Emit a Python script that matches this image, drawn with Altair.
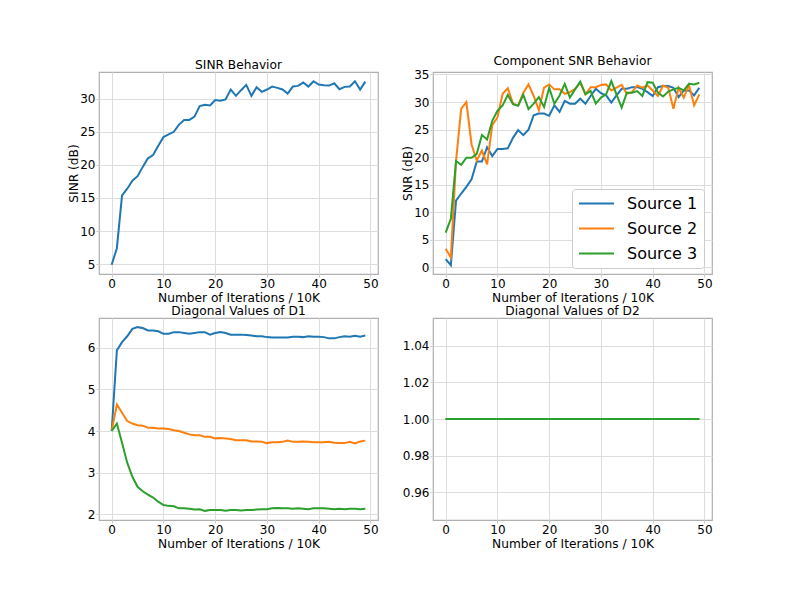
import altair as alt
import pandas as pd

iterations = list(range(50))
sources = ["Source 1", "Source 2", "Source 3"]
colors = ["#1f77b4", "#ff7f0e", "#2ca02c"]
x_ticks = [0, 10, 20, 30, 40, 50]

sinr = [4.9, 7.4, 15.4, 16.4, 17.6, 18.3, 19.7, 21.0, 21.5, 22.9,
        24.2, 24.6, 25.0, 26.1, 26.8, 26.8, 27.3, 28.9, 29.1, 29.0,
        29.8, 29.7, 29.9, 31.4, 30.45, 31.3, 32.1, 30.45, 31.75, 31.05,
        31.4, 31.85, 31.65, 31.4, 30.8, 31.85, 31.95, 32.45, 31.85, 32.65,
        32.15, 32.05, 32.0, 32.35, 31.45, 31.8, 31.85, 32.65, 31.4, 32.6]

snr_source1 = [1.5, 0.4, 12.1, 13.4, 14.6, 16.0, 19.2, 19.2, 21.8, 20.2,
               21.5, 21.5, 21.6, 23.5, 24.9, 24.0, 25.0, 27.6, 27.9, 27.9,
               27.5, 29.4, 28.2, 30.2, 29.7, 29.7, 30.6, 29.7, 31.1, 32.4,
               31.6, 31.2, 29.9, 31.2, 32.4, 32.4, 32.7, 32.7, 32.4, 31.8,
               31.1, 32.7, 32.9, 32.9, 32.6, 30.9, 32.1, 32.1, 31.2, 32.6]
snr_source2 = [3.4, 1.8, 19.3, 28.8, 30.0, 22.3, 19.4, 21.2, 18.7, 25.8,
               27.2, 31.5, 32.5, 29.7, 29.4, 31.7, 33.2, 31.1, 28.5, 32.6,
               33.2, 32.3, 32.3, 31.5, 31.8, 32.4, 33.5, 31.4, 32.7, 32.7,
               33.1, 33.2, 32.1, 32.6, 33.1, 31.5, 31.8, 33.0, 32.6, 33.0,
               32.1, 31.1, 33.0, 32.6, 28.8, 32.6, 30.8, 33.1, 29.4, 31.4]
snr_source3 = [6.3, 8.8, 19.3, 18.6, 19.9, 19.9, 20.6, 24.0, 23.2, 26.6,
               28.4, 29.4, 31.3, 29.6, 29.3, 31.3, 28.7, 29.7, 30.9, 29.1,
               32.6, 29.7, 31.2, 33.3, 30.8, 32.3, 33.7, 31.4, 32.0, 29.7,
               30.8, 31.4, 33.8, 31.4, 29.0, 31.7, 31.7, 32.0, 31.1, 33.6,
               33.5, 31.7, 31.0, 31.9, 32.3, 32.6, 32.1, 33.3, 33.2, 33.5]

d1_source1 = [4.0, 5.94, 6.14, 6.28, 6.46, 6.5, 6.48, 6.42, 6.42, 6.4,
              6.34, 6.34, 6.38, 6.38, 6.36, 6.34, 6.36, 6.38, 6.38, 6.32,
              6.36, 6.38, 6.36, 6.32, 6.32, 6.32, 6.31, 6.3, 6.28, 6.28,
              6.26, 6.25, 6.25, 6.25, 6.25, 6.27, 6.27, 6.26, 6.28, 6.27,
              6.27, 6.26, 6.23, 6.23, 6.26, 6.28, 6.27, 6.29, 6.27, 6.3]
d1_source2 = [4.0, 4.64, 4.44, 4.24, 4.18, 4.14, 4.13, 4.08, 4.08, 4.06,
              4.06, 4.05, 4.02, 4.0, 3.96, 3.92, 3.9, 3.9, 3.86, 3.86,
              3.82, 3.83, 3.82, 3.81, 3.78, 3.78, 3.78, 3.75, 3.75, 3.74,
              3.71, 3.73, 3.73, 3.74, 3.77, 3.74, 3.74, 3.75, 3.74, 3.73,
              3.73, 3.73, 3.74, 3.72, 3.71, 3.71, 3.74, 3.7, 3.75, 3.77]
d1_source3 = [4.0, 4.18, 3.72, 3.24, 2.9, 2.66, 2.55, 2.47, 2.4, 2.3,
              2.22, 2.2, 2.19, 2.14, 2.14, 2.13, 2.11, 2.12, 2.08, 2.1,
              2.1, 2.1, 2.08, 2.1, 2.1, 2.09, 2.1, 2.1, 2.11, 2.12,
              2.12, 2.14, 2.15, 2.14, 2.14, 2.13, 2.14, 2.13, 2.12, 2.14,
              2.14, 2.14, 2.13, 2.12, 2.13, 2.12, 2.13, 2.13, 2.12, 2.13]

d2_source1 = [1.0, 1.0, 1.0, 1.0, 1.0, 1.0, 1.0, 1.0, 1.0, 1.0,
              1.0, 1.0, 1.0, 1.0, 1.0, 1.0, 1.0, 1.0, 1.0, 1.0,
              1.0, 1.0, 1.0, 1.0, 1.0, 1.0, 1.0, 1.0, 1.0, 1.0,
              1.0, 1.0, 1.0, 1.0, 1.0, 1.0, 1.0, 1.0, 1.0, 1.0,
              1.0, 1.0, 1.0, 1.0, 1.0, 1.0, 1.0, 1.0, 1.0, 1.0]
d2_source2 = list(d2_source1)
d2_source3 = list(d2_source1)

FONT = "DejaVu Sans"
W, H = 279, 202
X_DOMAIN = [-2.45, 51.45]


def long_df(series_list):
    rows = []
    for name, vals in zip(sources, series_list):
        for i, v in zip(iterations, vals):
            rows.append({"iteration": i, "value": v, "source": name})
    return pd.DataFrame(rows)


def x_enc():
    return alt.X("iteration:Q",
                 scale=alt.Scale(domain=X_DOMAIN, nice=False, zero=False),
                 axis=alt.Axis(values=x_ticks, title="Number of Iterations / 10K"))


def color_enc(legend):
    return alt.Color("source:N",
                     scale=alt.Scale(domain=sources, range=colors),
                     legend=legend)


df_sinr = pd.DataFrame({"iteration": iterations, "value": sinr})
p1 = alt.Chart(df_sinr).mark_line(color=colors[0], strokeWidth=2).encode(
    x=x_enc(),
    y=alt.Y("value:Q", scale=alt.Scale(domain=[3.5, 34.05], nice=False, zero=False),
            axis=alt.Axis(values=[5, 10, 15, 20, 25, 30], title="SINR (dB)")),
).properties(width=W, height=H, title="SINR Behavior")

legend = alt.Legend(orient="none", legendX=139, legendY=117, title=None,
                    labelFontSize=16, labelFont=FONT, symbolType="stroke",
                    symbolSize=1225, symbolStrokeWidth=2, labelOffset=12,
                    padding=6, rowPadding=8, clipHeight=17, strokeColor="#cccccc",
                    fillColor="white", cornerRadius=3)

p2 = alt.Chart(long_df([snr_source1, snr_source2, snr_source3])).mark_line(strokeWidth=2).encode(
    x=x_enc(),
    y=alt.Y("value:Q", scale=alt.Scale(domain=[-1.2, 35.45], nice=False, zero=False),
            axis=alt.Axis(values=[0, 5, 10, 15, 20, 25, 30, 35], title="SNR (dB)")),
    color=color_enc(legend),
).properties(width=W, height=H, title="Component SNR Behavior")

p3 = alt.Chart(long_df([d1_source1, d1_source2, d1_source3])).mark_line(strokeWidth=2).encode(
    x=x_enc(),
    y=alt.Y("value:Q", scale=alt.Scale(domain=[1.86, 6.72], nice=False, zero=False),
            axis=alt.Axis(values=[2, 3, 4, 5, 6], title=None)),
    color=color_enc(None),
).properties(width=W, height=H, title="Diagonal Values of D1")

p4 = alt.Chart(long_df([d2_source1, d2_source2, d2_source3])).mark_line(strokeWidth=2).encode(
    x=x_enc(),
    y=alt.Y("value:Q", scale=alt.Scale(domain=[0.945, 1.055], nice=False, zero=False),
            axis=alt.Axis(values=[0.96, 0.98, 1.0, 1.02, 1.04], format=".2f", title=None)),
    color=color_enc(None),
).properties(width=W, height=H, title="Diagonal Values of D2")

chart = alt.concat(
    p1, p2, p3, p4, columns=2, spacing={"row": 44, "column": 55}, bounds="flush"
).resolve_scale(color="independent").resolve_legend(color="independent").properties(
    padding={"left": 59, "top": 46, "right": 5, "bottom": 5}
).configure_axis(
    labelFont=FONT, titleFont=FONT, labelFontSize=12, titleFontSize=12.2,
    titleFontWeight="normal", labelColor="black", titleColor="black",
    gridColor="#dddddd", tickColor="#cccccc", tickSize=3, labelPadding=1,
    domain=False,
).configure_axisX(
    titlePadding=2
).configure_axisY(
    titlePadding=-1
).configure_view(
    stroke="#b0b0b0", strokeWidth=1.2
).configure_title(
    font=FONT, fontSize=12.2, fontWeight="normal", offset=1, color="black"
)

chart.save("out.html", embed_options={"renderer": "svg", "actions": False})
